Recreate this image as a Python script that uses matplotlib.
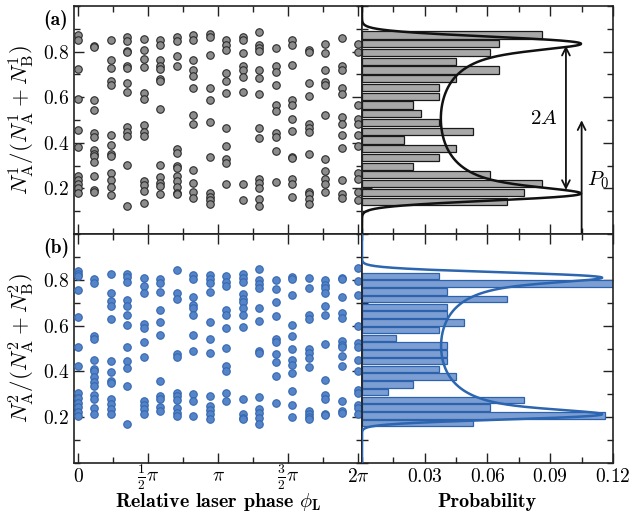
import numpy as np
import matplotlib
matplotlib.use("Agg")
import matplotlib.pyplot as plt
from matplotlib.ticker import MultipleLocator

plt.rcParams['mathtext.fontset'] = 'cm'
plt.rcParams['font.family'] = ['cmr10', 'DejaVu Serif']
plt.rcParams['axes.unicode_minus'] = False

# measured ratio per laser phase step (18 steps over 0..2pi), run 1 and run 2
ratio1 = [
    [0.873, 0.851, 0.724, 0.593, 0.458, 0.383, 0.255, 0.237, 0.220, 0.201, 0.182],
    [0.826, 0.820, 0.589, 0.545, 0.441, 0.426, 0.368, 0.353, 0.342, 0.317, 0.255, 0.193, 0.186],
    [0.852, 0.761, 0.727, 0.669, 0.652, 0.436, 0.390, 0.353, 0.343, 0.266, 0.237, 0.208, 0.172],
    [0.865, 0.848, 0.804, 0.797, 0.735, 0.727, 0.662, 0.623, 0.470, 0.448, 0.429, 0.303, 0.125],
    [0.855, 0.807, 0.768, 0.732, 0.618, 0.593, 0.480, 0.448, 0.429, 0.233, 0.215, 0.189, 0.135],
    [0.851, 0.831, 0.764, 0.737, 0.724, 0.678, 0.671, 0.547, 0.303, 0.252, 0.225, 0.211, 0.176],
    [0.865, 0.845, 0.780, 0.739, 0.372, 0.356, 0.300, 0.288, 0.256, 0.234, 0.208, 0.182, 0.175],
    [0.873, 0.851, 0.765, 0.720, 0.691, 0.641, 0.521, 0.484, 0.281, 0.223, 0.186, 0.157],
    [0.877, 0.865, 0.787, 0.641, 0.589, 0.492, 0.339, 0.179, 0.164, 0.150, 0.132],
    [0.851, 0.829, 0.807, 0.705, 0.673, 0.618, 0.465, 0.387, 0.327, 0.313, 0.220],
    [0.865, 0.851, 0.793, 0.735, 0.720, 0.688, 0.623, 0.218, 0.150],
    [0.884, 0.831, 0.815, 0.804, 0.720, 0.684, 0.612, 0.467, 0.423, 0.240, 0.223, 0.201, 0.154, 0.125],
    [0.815, 0.735, 0.710, 0.652, 0.564, 0.538, 0.441, 0.426, 0.364, 0.230],
    [0.851, 0.829, 0.742, 0.586, 0.567, 0.503, 0.451, 0.339, 0.332, 0.240, 0.220, 0.161],
    [0.807, 0.800, 0.662, 0.605, 0.484, 0.465, 0.448, 0.353, 0.186, 0.175, 0.153, 0.132],
    [0.833, 0.793, 0.720, 0.666, 0.652, 0.521, 0.327, 0.278, 0.240, 0.218, 0.186],
    [0.860, 0.735, 0.720, 0.641, 0.615, 0.511, 0.484, 0.436, 0.378, 0.237, 0.175, 0.160],
    [0.833, 0.797, 0.564, 0.506, 0.481, 0.433, 0.385, 0.266, 0.240, 0.186, 0.150],
]
ratio2 = [
    [0.839, 0.825, 0.815, 0.756, 0.637, 0.507, 0.422, 0.306, 0.284, 0.262, 0.244, 0.223, 0.204],
    [0.803, 0.788, 0.553, 0.541, 0.451, 0.412, 0.400, 0.374, 0.354, 0.338, 0.299, 0.281, 0.241, 0.216],
    [0.826, 0.742, 0.706, 0.684, 0.630, 0.444, 0.396, 0.360, 0.350, 0.280, 0.258, 0.236, 0.212],
    [0.826, 0.812, 0.790, 0.713, 0.684, 0.645, 0.601, 0.505, 0.444, 0.415, 0.338, 0.172],
    [0.807, 0.771, 0.742, 0.607, 0.589, 0.528, 0.461, 0.270, 0.255, 0.236, 0.216],
    [0.803, 0.788, 0.745, 0.666, 0.614, 0.560, 0.357, 0.294, 0.281, 0.244, 0.226],
    [0.841, 0.742, 0.717, 0.477, 0.461, 0.306, 0.294, 0.273, 0.241, 0.219, 0.207],
    [0.822, 0.803, 0.723, 0.691, 0.679, 0.645, 0.560, 0.488, 0.302, 0.270, 0.207],
    [0.819, 0.803, 0.785, 0.745, 0.616, 0.541, 0.480, 0.292, 0.248, 0.233, 0.214, 0.190],
    [0.815, 0.790, 0.775, 0.669, 0.645, 0.589, 0.502, 0.422, 0.400, 0.306, 0.270],
    [0.825, 0.810, 0.790, 0.737, 0.717, 0.701, 0.677, 0.647, 0.592, 0.280, 0.212, 0.197, 0.190],
    [0.848, 0.800, 0.783, 0.764, 0.677, 0.621, 0.488, 0.480, 0.289, 0.236, 0.219, 0.197, 0.172],
    [0.800, 0.759, 0.701, 0.640, 0.541, 0.527, 0.476, 0.440, 0.379, 0.262],
    [0.812, 0.803, 0.735, 0.604, 0.556, 0.498, 0.451, 0.430, 0.393, 0.316, 0.255, 0.200],
    [0.810, 0.764, 0.645, 0.629, 0.499, 0.480, 0.459, 0.418, 0.226, 0.212, 0.200, 0.190],
    [0.800, 0.778, 0.764, 0.742, 0.684, 0.647, 0.521, 0.364, 0.299, 0.281, 0.214, 0.208],
    [0.810, 0.803, 0.723, 0.655, 0.633, 0.531, 0.517, 0.505, 0.466, 0.422, 0.270, 0.226, 0.219],
    [0.851, 0.793, 0.735, 0.597, 0.524, 0.505, 0.451, 0.400, 0.320, 0.306, 0.255, 0.241, 0.216],
]

# histogram probabilities, lowest bin first (20 bins each)
hist1_range = (0.125, 0.892)
hist1_prob = [0.0694, 0.0775, 0.0859, 0.0613, 0.0243, 0.0368, 0.0449, 0.0203, 0.0530, 0.0368,
              0.0284, 0.0243, 0.0368, 0.0368, 0.0449, 0.0653, 0.0449, 0.0613, 0.0653, 0.0859]
hist2_range = (0.157, 0.834)
hist2_prob = [0.0530, 0.1163, 0.0613, 0.0775, 0.0122, 0.0245, 0.0449, 0.0368, 0.0408, 0.0408,
              0.0408, 0.0162, 0.0368, 0.0489, 0.0408, 0.0408, 0.0694, 0.0408, 0.1225, 0.0368]

# fitted arcsine model: P0, A, broadening sigma, scale
fit1 = (0.506, 0.347, 0.024, 0.041)
fit2 = (0.511, 0.312, 0.018, 0.037)

phase_labels = ['$0$', r'$\frac{1}{2}\pi$', r'$\pi$', r'$\frac{3}{2}\pi$', r'$2\pi$']
prob_labels = ['$0.03$', '$0.06$', '$0.09$', '$0.12$']


def arcsine_curve(y, p0, amp, sig, scale):
    theta = np.linspace(0, np.pi, 4001)
    p = p0 + amp * np.cos(theta)
    g = np.exp(-0.5 * ((y[:, None] - p[None, :]) / sig) ** 2) / (sig * np.sqrt(2 * np.pi))
    return scale * g.mean(axis=1)


def style_axes(ax):
    for s in ax.spines.values():
        s.set_linewidth(1.2)
        s.set_color('#222222')
    ax.tick_params(which='both', direction='in', top=True, right=True,
                   width=1.0, color='#222222', labelsize=14)
    ax.tick_params(which='major', length=7)
    ax.tick_params(which='minor', length=4)
    ax.tick_params(axis='x', pad=13.5)
    ax.set_ylim(0, 1)
    ax.yaxis.set_minor_locator(MultipleLocator(0.1))


fig = plt.figure(figsize=(6.3, 5.15), dpi=100)
left_w = 288 / 630
right_w = 251 / 630
ax_a = fig.add_axes([74 / 630, 281 / 515, left_w, 228 / 515])
ax_ah = fig.add_axes([362 / 630, 281 / 515, right_w, 228 / 515])
ax_b = fig.add_axes([74 / 630, 52 / 515, left_w, 229 / 515])
ax_bh = fig.add_axes([362 / 630, 52 / 515, right_w, 229 / 515])

phases = np.linspace(0, 2 * np.pi, len(ratio1))
ygrid = np.linspace(0, 1, 800)

panels = [
    (ax_a, ax_ah, ratio1, hist1_range, hist1_prob, fit1,
     '#8c8c8c', '#2b2b2b', '#a8a8a8', '#1a1a1a', '#111111',
     r'$N_\mathrm{A}^1/(N_\mathrm{A}^1+N_\mathrm{B}^1)$'),
    (ax_b, ax_bh, ratio2, hist2_range, hist2_prob, fit2,
     '#5585c8', '#3567b0', '#7c9ed3', '#2d62ad', '#2c65b0',
     r'$N_\mathrm{A}^2/(N_\mathrm{A}^2+N_\mathrm{B}^2)$'),
]

for ax, axh, ratio, hrange, hprob, fit, fc, ec, bfc, bec, lc, ylab in panels:
    for x, col in zip(phases, ratio):
        ax.plot([x] * len(col), col, 'o', ms=5.4, mfc=fc, mec=ec, mew=0.8, zorder=3)
    style_axes(ax)
    ax.set_xlim(-0.09, 2 * np.pi + 0.09)
    ax.set_xticks(np.arange(5) * np.pi / 2)
    ax.xaxis.set_minor_locator(MultipleLocator(np.pi / 4))
    ax.set_yticks([0.2, 0.4, 0.6, 0.8], labels=['$0.2$', '$0.4$', '$0.6$', '$0.8$'])
    ax.set_ylabel(ylab, fontsize=16.5)
    ax.yaxis.set_label_coords(-0.128, 0.5)

    edges = np.linspace(hrange[0], hrange[1], len(hprob) + 1)
    centers = 0.5 * (edges[1:] + edges[:-1])
    width = edges[1] - edges[0]
    axh.barh(centers, hprob, height=0.82 * width, color=bfc, edgecolor=bec, linewidth=0.9, zorder=2)
    axh.plot(arcsine_curve(ygrid, *fit), ygrid, color=lc, lw=1.8, zorder=4)
    style_axes(axh)
    axh.set_xlim(0, 0.12)
    axh.set_xticks([0.03, 0.06, 0.09, 0.12])
    axh.xaxis.set_minor_locator(MultipleLocator(0.015))
    axh.set_yticks([0.2, 0.4, 0.6, 0.8])
    axh.tick_params(labelleft=False)

ax_a.tick_params(labelbottom=False)
ax_ah.tick_params(labelbottom=False)
ax_b.set_xticklabels(phase_labels)
ax_bh.set_xticklabels(prob_labels)
for lbl in ax_b.get_xticklabels() + ax_bh.get_xticklabels():
    lbl.set_verticalalignment('baseline')

ax_b.set_xlabel(r'Relative laser phase $\phi_\mathbf{L}$', fontfamily='cmb10', fontsize=14.5, va='baseline')
ax_b.xaxis.set_label_coords(0.5, -0.192)
ax_bh.set_xlabel('Probability', fontfamily='cmb10', fontsize=14.5, va='baseline')
ax_bh.xaxis.set_label_coords(0.5, -0.192)

# annotations for the fit parameters
ax_ah.annotate('', xy=(0.0975, 0.826), xytext=(0.0975, 0.193),
               arrowprops=dict(arrowstyle='<->', lw=1.3, color='#111111',
                               shrinkA=0, shrinkB=0, mutation_scale=14))
ax_ah.annotate('', xy=(0.105, 0.499), xytext=(0.105, 0.0),
               arrowprops=dict(arrowstyle='->', lw=1.3, color='#111111',
                               shrinkA=0, shrinkB=0, mutation_scale=14))
ax_ah.text(0.0935, 0.505, '$2A$', fontsize=15, ha='right', va='center')
ax_ah.text(0.1075, 0.237, '$P_0$', fontsize=15, ha='left', va='center')

fig.text(56 / 630, 1 - 20 / 515, '(a)', fontfamily='cmb10', fontsize=14, ha='center', va='center')
fig.text(56 / 630, 1 - 248 / 515, '(b)', fontfamily='cmb10', fontsize=14, ha='center', va='center')

fig.savefig('out.png', dpi=100)
